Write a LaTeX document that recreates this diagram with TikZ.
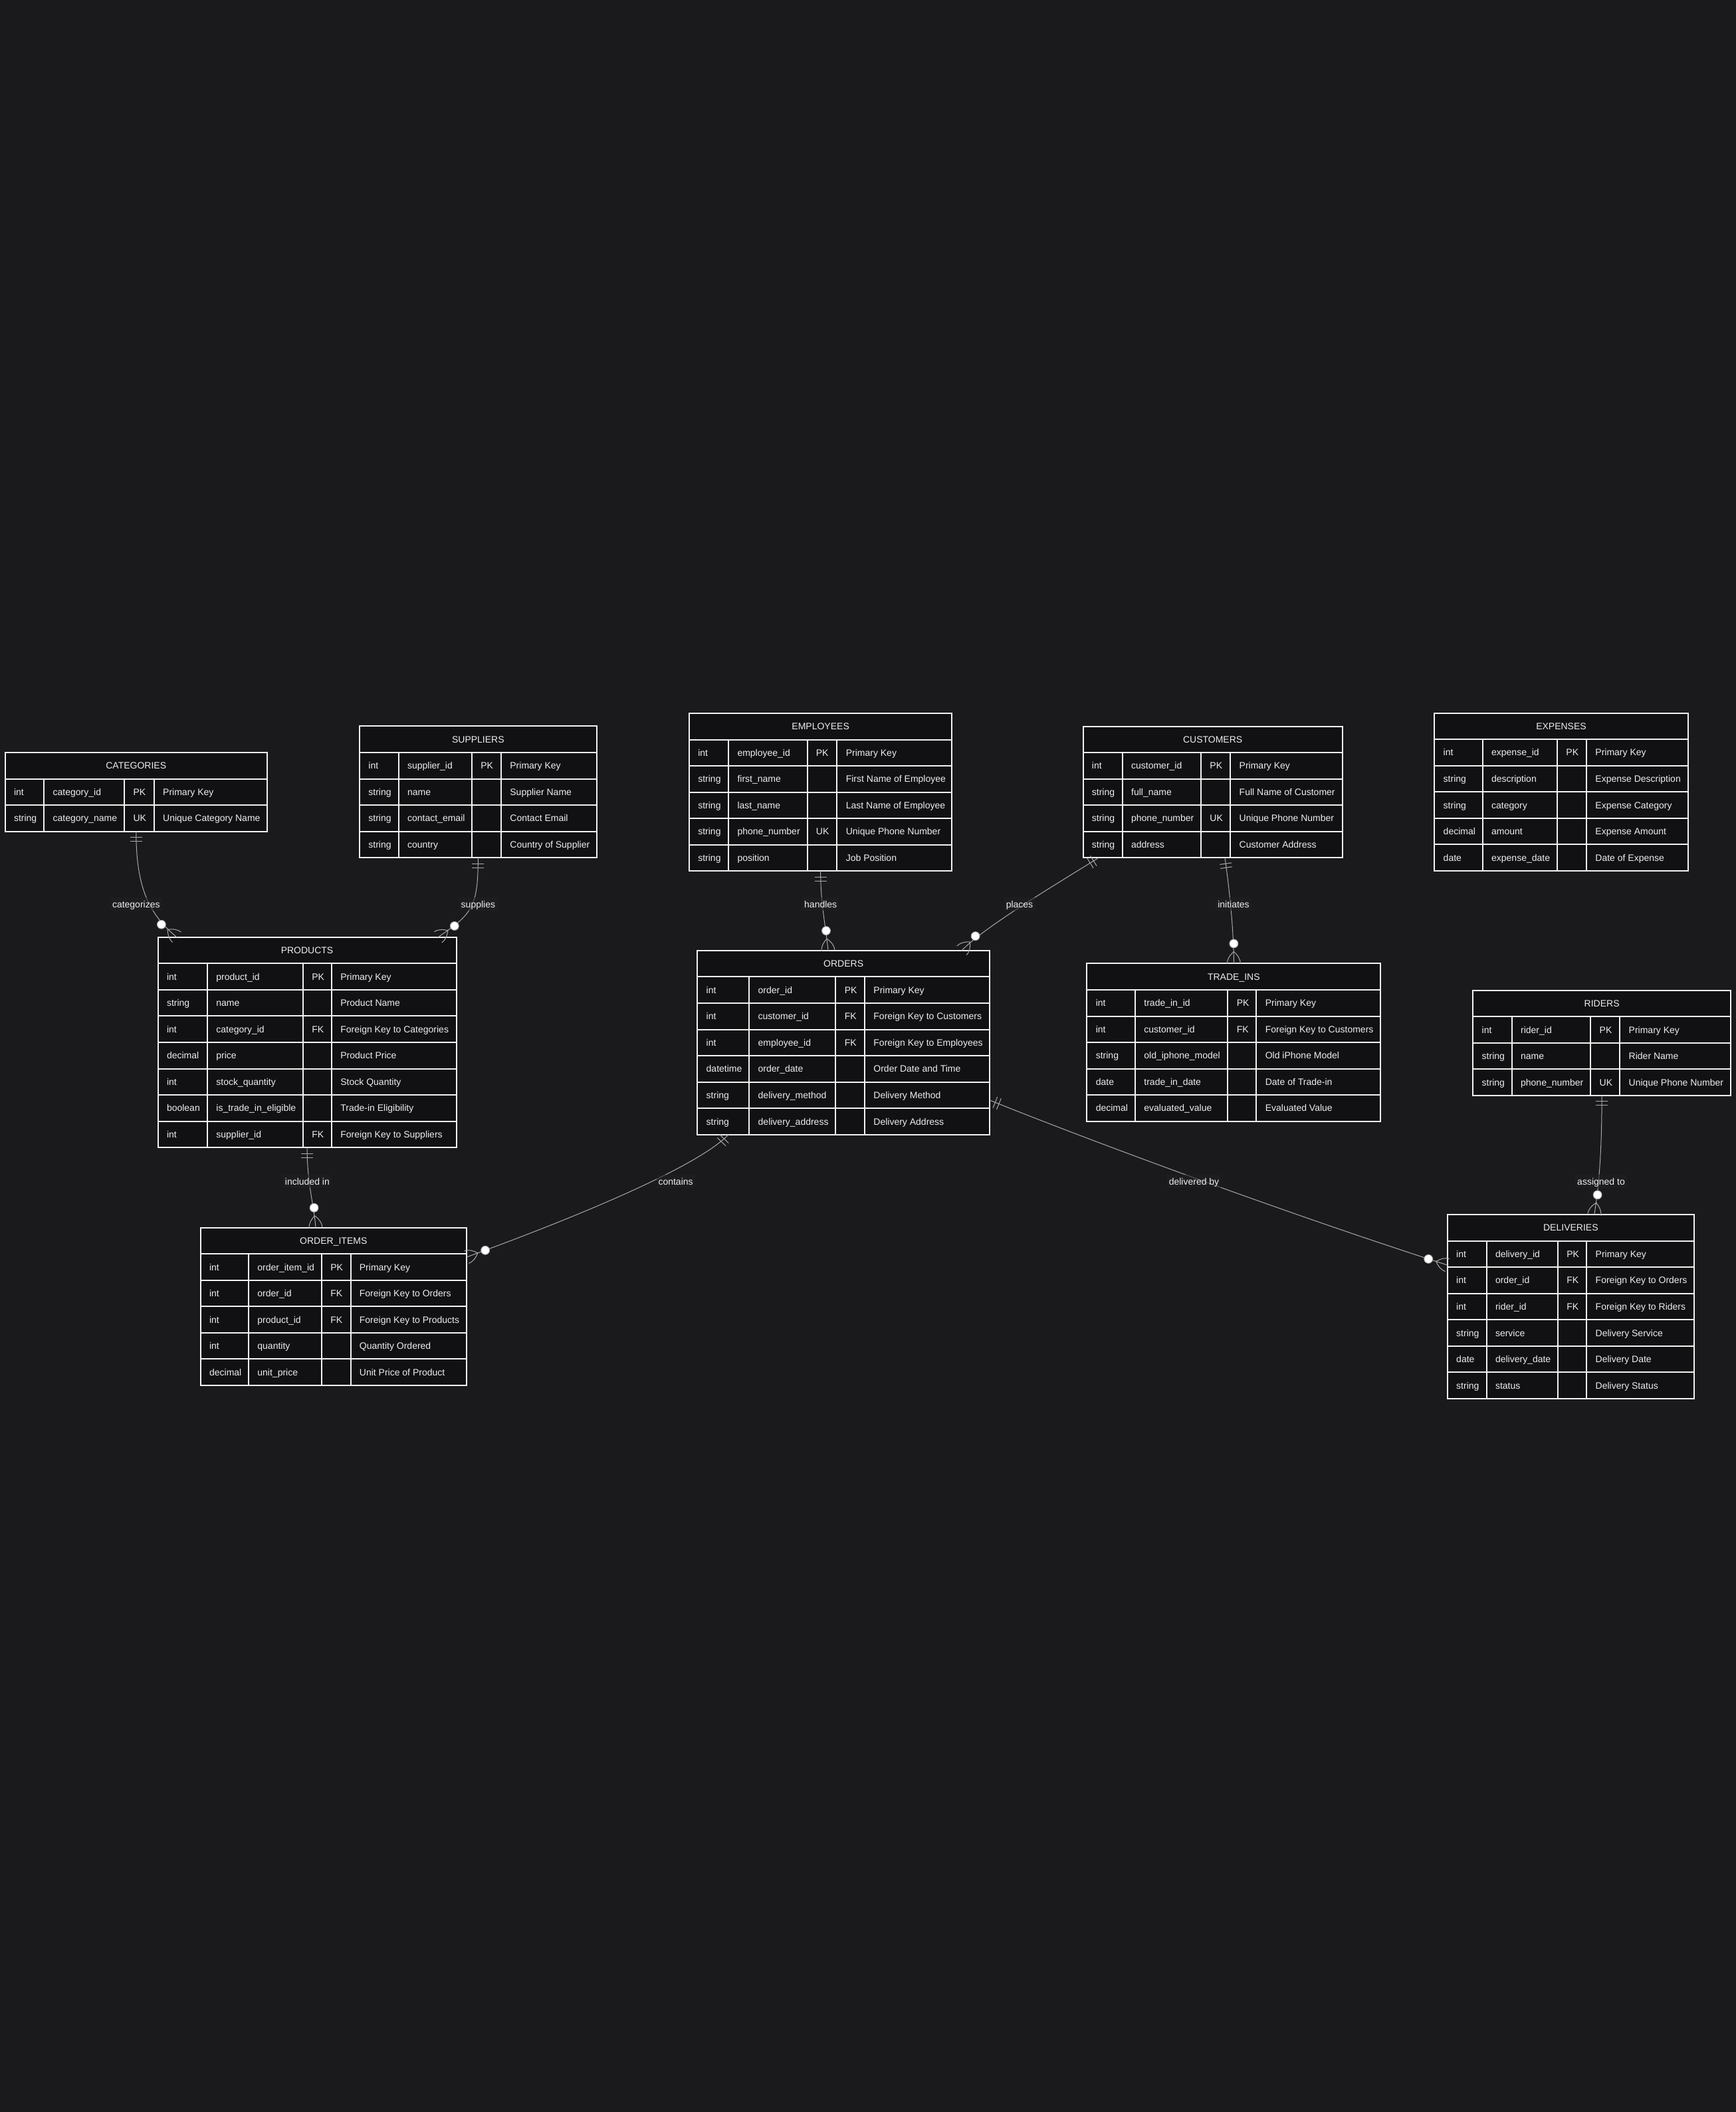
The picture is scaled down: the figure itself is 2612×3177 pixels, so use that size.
\documentclass[tikz,border=0pt]{standalone}
\usepackage{fontspec}
\setmainfont{Liberation Sans}
\usetikzlibrary{calc,fit,decorations.markings}

\definecolor{canvas}{HTML}{1A1A1D}
\definecolor{cellfill}{HTML}{111114}
\definecolor{cellline}{HTML}{F2F2F2}
\definecolor{inktext}{HTML}{EEEEEE}
\definecolor{relline}{HTML}{AAAAAA}
\definecolor{labelbox}{HTML}{202023}

\newcommand\rowh{39.55}
\newcommand\setcols[5]{\def\colA{#1}\def\colB{#2}\def\colC{#3}\def\colD{#4}\def\colE{#5}}

% #1 node name, #2 top edge, #3 title, #4 number of attribute rows,
% #5 attributes as type/name/key/description
\newcommand\entity[5]{%
  \pgfmathsetmacro\tabbot{#2+(#4+1)*\rowh}%
  \pgfmathsetmacro\headmid{#2+0.5*\rowh}%
  \pgfmathsetmacro\tabmid{(\colA+\colE)/2}%
  \draw[cellbox] (\colA,#2) rectangle (\colE,{#2+\rowh});
  \node[headtext] (#1-title) at (\tabmid,\headmid) {#3};
  \foreach \vty/\vfn/\vky/\vds [count=\i] in {#5} {
    \pgfmathsetmacro\yt{#2+\i*\rowh}
    \pgfmathsetmacro\yb{\yt+\rowh}
    \pgfmathsetmacro\ym{\yt+0.5*\rowh}
    \draw[cellbox] (\colA,\yt) rectangle (\colB,\yb);
    \draw[cellbox] (\colB,\yt) rectangle (\colC,\yb);
    \draw[cellbox] (\colC,\yt) rectangle (\colD,\yb);
    \draw[cellbox] (\colD,\yt) rectangle (\colE,\yb);
    \node[celltext] (#1-\i-type) at ({\colA+13},\ym) {\vty};
    \node[celltext] (#1-\i-name) at ({\colB+13},\ym) {\vfn};
    \node[celltext] (#1-\i-key) at ({\colC+13},\ym) {\vky};
    \node[celltext] (#1-\i-desc) at ({\colD+13},\ym) {\vds};
  }
  \coordinate (#1-nw) at (\colA,#2);
  \coordinate (#1-se) at (\colE,\tabbot);
  \node[fit=(#1-nw)(#1-se), inner sep=0pt, outer sep=0pt] (#1) {};
}

\tikzset{
  cellbox/.style={draw=cellline, fill=cellfill, line width=1pt},
  celltext/.style={anchor=west, inner sep=0pt, text=inktext, text height=5pt, text depth=0pt},
  headtext/.style={anchor=center, inner sep=0pt, text=inktext, text height=5pt, text depth=0pt},
  rellabel/.style={fill=labelbox, fill opacity=0.6, text opacity=1, text=inktext,
    inner xsep=1.5pt, inner ysep=2.6pt, text height=5pt, text depth=0pt},
  % one-and-only-one bars at the start, circle plus crow's foot at the end
  rel/.style={draw=relline, line width=0.5pt, postaction={decorate},
    decoration={markings,
      mark=at position 0 with {\draw[relline, line width=0.5pt]
        (4.5pt,-4.5pt) -- (4.5pt,4.5pt) (7.5pt,-4.5pt) -- (7.5pt,4.5pt);},
      mark=at position 0.9999 with {\draw[relline, line width=0.5pt]
        (-9pt,0pt) .. controls (-6pt,3.3pt) and (-3pt,5pt) .. (0pt,5pt)
        (-9pt,0pt) .. controls (-6pt,-3.3pt) and (-3pt,-5pt) .. (0pt,-5pt);
        \draw[relline, fill=white, line width=0.5pt] (-15pt,0pt) circle (3.2pt);}}},
}

\begin{document}
\begin{tikzpicture}[x=0.5pt, y=-0.5pt, font=\fontsize{7pt}{8.4pt}\selectfont]
\useasboundingbox (0,0) rectangle (2612,3177);
\fill[canvas] (0,0) rectangle (2612,3177);

% ---------- entities ----------
\setcols{7.6}{66.3}{187.2}{231.8}{401.9}
\entity{categories}{1132}{CATEGORIES}{2}{
  int/category\_id/PK/Primary Key,
  string/category\_name/UK/Unique Category Name}

\setcols{541}{599.7}{710}{754}{897.7}
\entity{suppliers}{1092.4}{SUPPLIERS}{4}{
  int/supplier\_id/PK/Primary Key,
  string/name//Supplier Name,
  string/contact\_email//Contact Email,
  string/country//Country of Supplier}

\setcols{1036.9}{1096.1}{1214.5}{1259.4}{1432.4}
\entity{employees}{1073}{EMPLOYEES}{5}{
  int/employee\_id/PK/Primary Key,
  string/first\_name//First Name of Employee,
  string/last\_name//Last Name of Employee,
  string/phone\_number/UK/Unique Phone Number,
  string/position//Job Position}

\setcols{1629.5}{1688.7}{1807}{1851.3}{2019.8}
\entity{customers}{1092.5}{CUSTOMERS}{4}{
  int/customer\_id/PK/Primary Key,
  string/full\_name//Full Name of Customer,
  string/phone\_number/UK/Unique Phone Number,
  string/address//Customer Address}

\setcols{2158.3}{2230.7}{2343}{2387}{2539.7}
\entity{expenses}{1072.6}{EXPENSES}{5}{
  int/expense\_id/PK/Primary Key,
  string/description//Expense Description,
  string/category//Expense Category,
  decimal/amount//Expense Amount,
  date/expense\_date//Date of Expense}

\setcols{237.6}{312}{456}{499}{686.5}
\entity{products}{1409.8}{PRODUCTS}{7}{
  int/product\_id/PK/Primary Key,
  string/name//Product Name,
  int/category\_id/FK/Foreign Key to Categories,
  decimal/price//Product Price,
  int/stock\_quantity//Stock Quantity,
  boolean/is\_trade\_in\_eligible//Trade-in Eligibility,
  int/supplier\_id/FK/Foreign Key to Suppliers}

\setcols{1049.3}{1127.3}{1257.4}{1301}{1489}
\entity{orders}{1429.9}{ORDERS}{6}{
  int/order\_id/PK/Primary Key,
  int/customer\_id/FK/Foreign Key to Customers,
  int/employee\_id/FK/Foreign Key to Employees,
  datetime/order\_date//Order Date and Time,
  string/delivery\_method//Delivery Method,
  string/delivery\_address//Delivery Address}

\setcols{1635.4}{1708}{1847.4}{1890.4}{2077.3}
\entity{tradeins}{1449.4}{TRADE\_INS}{5}{
  int/trade\_in\_id/PK/Primary Key,
  int/customer\_id/FK/Foreign Key to Customers,
  string/old\_iphone\_model//Old iPhone Model,
  date/trade\_in\_date//Date of Trade-in,
  decimal/evaluated\_value//Evaluated Value}

\setcols{2216.3}{2274.7}{2393.3}{2437.3}{2604}
\entity{riders}{1489.7}{RIDERS}{3}{
  int/rider\_id/PK/Primary Key,
  string/name//Rider Name,
  string/phone\_number/UK/Unique Phone Number}

\setcols{301.7}{374}{484}{527.5}{701.9}
\entity{orderitems}{1846.7}{ORDER\_ITEMS}{5}{
  int/order\_item\_id/PK/Primary Key,
  int/order\_id/FK/Foreign Key to Orders,
  int/product\_id/FK/Foreign Key to Products,
  int/quantity//Quantity Ordered,
  decimal/unit\_price//Unit Price of Product}

\setcols{2177.8}{2236.6}{2343.9}{2387.3}{2548.9}
\entity{deliveries}{1827}{DELIVERIES}{6}{
  int/delivery\_id/PK/Primary Key,
  int/order\_id/FK/Foreign Key to Orders,
  int/rider\_id/FK/Foreign Key to Riders,
  string/service//Delivery Service,
  date/delivery\_date//Delivery Date,
  string/status//Delivery Status}

% ---------- relationships: exactly one -> zero or more ----------
\draw[rel] (categories.south) .. controls +(0,84.5) and +(-42,-34.8) .. ($(products.north west)+(28.4,0)$);
\draw[rel] (suppliers.south) .. controls +(0,75) and +(51,-34.8) .. ($(products.north west)+(421.4,0)$);
\draw[rel] (employees.south) .. controls +(0,50) and +(-4,-40) .. ($(orders.north west)+(196.7,0)$);
\draw[rel] ($(customers.south west)+(23.5,0)$) .. controls +(-63,39.3) and +(33,-34.9) .. ($(orders.north west)+(397.7,0)$);
\draw[rel] ($(customers.south west)+(213.5,0)$) .. controls +(7,49.3) and +(0,-49.4) .. (tradeins.north);
\draw[rel] (products.south) .. controls +(0,54) and +(-3,-36.7) .. ($(orderitems.north west)+(173.3,0)$);
\draw[rel] ($(orders.south west)+(46.7,0)$) .. controls +(-46,48) and +(168,-61) .. ($(orderitems.north east)+(0,44.3)$);
\draw[rel] ($(orders.north east)+(0,225)$) .. controls +(161,65) and +(-227.8,-73) .. ($(deliveries.north west)+(0,76)$);
\draw[rel] (riders.south) .. controls +(0,93) and +(6,-37) .. ($(deliveries.north west)+(221,0)$);

% ---------- relationship labels ----------
\node[rellabel] (lab-categorizes) at (204.8,1360) {categorizes};
\node[rellabel] (lab-supplies) at (719.4,1360) {supplies};
\node[rellabel] (lab-handles) at (1234.7,1360) {handles};
\node[rellabel] (lab-places) at (1534,1360) {places};
\node[rellabel] (lab-initiates) at (1856,1360) {initiates};
\node[rellabel] (lab-included) at (462.4,1777) {included in};
\node[rellabel] (lab-contains) at (1016.6,1777) {contains};
\node[rellabel] (lab-delivered) at (1796.5,1777) {delivered by};
\node[rellabel] (lab-assigned) at (2409,1777) {assigned to};
\end{tikzpicture}
\end{document}
